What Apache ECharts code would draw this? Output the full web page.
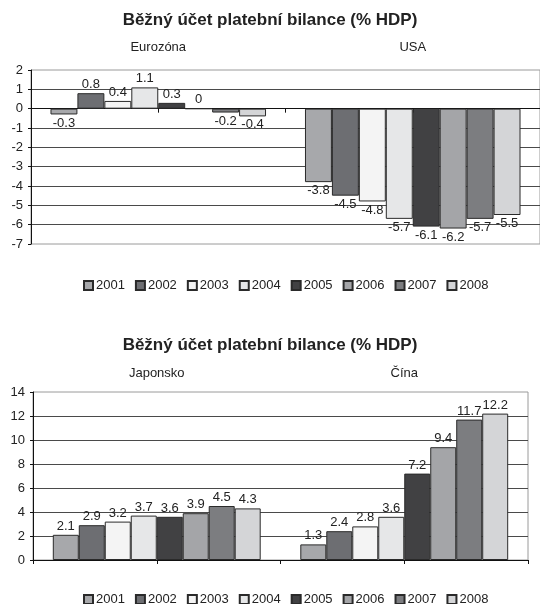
<!DOCTYPE html>
<html>
<head>
<meta charset="utf-8">
<script src="https://cdn.jsdelivr.net/npm/echarts@6/dist/echarts.min.js"></script>
<style>
  html, body { margin: 0; padding: 0; background: #fff; }
  #chart { width: 540px; height: 604px; }
</style>
</head>
<body>
<div id="chart"></div>
<script>
// Current account balance, % of GDP, 2001–2008
const chartTitle = 'Běžný účet platební bilance (% HDP)';
const years = ['2001', '2002', '2003', '2004', '2005', '2006', '2007', '2008'];

const regionsTop = ['Eurozóna', 'USA'];
const eurozona = [-0.3, 0.8, 0.4, 1.1, 0.3, 0, -0.2, -0.4];
const usa = [-3.8, -4.5, -4.8, -5.7, -6.1, -6.2, -5.7, -5.5];

const regionsBottom = ['Japonsko', 'Čína'];
const japonsko = [2.1, 2.9, 3.2, 3.7, 3.6, 3.9, 4.5, 4.3];
const cina = [1.3, 2.4, 2.8, 3.6, 7.2, 9.4, 11.7, 12.2];

const yearColors = ['#a7a8ab', '#6d6e72', '#f4f4f4', '#e6e7e8', '#414143', '#a4a5a8', '#7c7d80', '#d4d5d7'];

const FONT = 'Liberation Sans, Arial, sans-serif';
const INK = '#222';

// one data item per region; labels of negative bars sit under the bar end
function point(v) {
  return { value: v, label: { position: v < 0 ? 'bottom' : 'top' } };
}

function panelSeries(a, b, xIdx, yIdx, gap) {
  return years.map((yr, i) => ({
    name: yr,
    type: 'bar',
    xAxisIndex: xIdx,
    yAxisIndex: yIdx,
    barGap: '0%',
    barCategoryGap: gap,
    itemStyle: { color: yearColors[i], borderColor: '#2a2a2a', borderWidth: 1 },
    label: {
      show: true,
      distance: 2,
      color: INK,
      fontFamily: FONT,
      fontSize: 13
    },
    data: [point(a[i]), point(b[i])]
  }));
}

// x axes per panel: data axis, region names above the plot, zero line with tick marks
function xAxesFor(gridIndex, regions, nameMargin) {
  return [
    {
      type: 'category', gridIndex, data: regions, position: 'bottom',
      axisLine: { show: false, onZero: false },
      axisTick: { show: false }, axisLabel: { show: false }
    },
    {
      type: 'category', gridIndex, data: regions, position: 'top',
      axisLine: { show: false, onZero: false }, axisTick: { show: false },
      axisLabel: { show: true, margin: nameMargin, color: INK, fontFamily: FONT, fontSize: 13 }
    },
    {
      type: 'category', gridIndex, data: ['', '', '', ''], position: 'bottom',
      axisLine: { show: true, onZero: true, lineStyle: { color: '#111', width: 1 } },
      axisTick: { show: true, length: 4, lineStyle: { color: '#111' } },
      axisLabel: { show: false }
    }
  ];
}

function yAxisFor(gridIndex, min, max, interval) {
  return {
    type: 'value', gridIndex, min, max, interval,
    axisLine: { show: true, lineStyle: { color: '#111', width: 1 } },
    axisTick: { show: true, length: 3, lineStyle: { color: '#111' } },
    axisLabel: { margin: 8, color: INK, fontFamily: FONT, fontSize: 13 },
    splitLine: { show: true, showMinLine: false, showMaxLine: false, lineStyle: { color: '#4a4a4a', width: 1 } }
  };
}

function legendAt(top) {
  return {
    data: years, left: 78, top,
    icon: 'rect', itemWidth: 9, itemHeight: 9, itemGap: 10,
    textStyle: { color: INK, fontFamily: FONT, fontSize: 13, padding: [0, 0, 0, -2] },
    selectedMode: false
  };
}

const titleStyle = { fontFamily: FONT, fontSize: 17, fontWeight: 'bold', color: INK };

const chart = echarts.init(document.getElementById('chart'), null, { renderer: 'canvas' });

chart.setOption({
  animation: false,
  backgroundColor: '#fff',
  title: [
    { text: chartTitle, left: 'center', top: 7, textStyle: titleStyle },
    { text: chartTitle, left: 'center', top: 332, textStyle: titleStyle }
  ],
  legend: [legendAt(274), legendAt(588)],
  grid: [
    { left: 31, top: 70, width: 510, height: 174, show: true, borderColor: '#9a9a9a', borderWidth: 1, backgroundColor: 'transparent' },
    { left: 33, top: 392, width: 495, height: 168, show: true, borderColor: '#9a9a9a', borderWidth: 1, backgroundColor: 'transparent' }
  ],
  xAxis: [...xAxesFor(0, regionsTop, 16), ...xAxesFor(1, regionsBottom, 12)],
  yAxis: [yAxisFor(0, -7, 2, 1), yAxisFor(1, 0, 14, 2)],
  series: [
    ...panelSeries(eurozona, usa, 0, 0, '15.3%'),
    ...panelSeries(japonsko, cina, 3, 1, '16%')
  ]
});
</script>
</body>
</html>
